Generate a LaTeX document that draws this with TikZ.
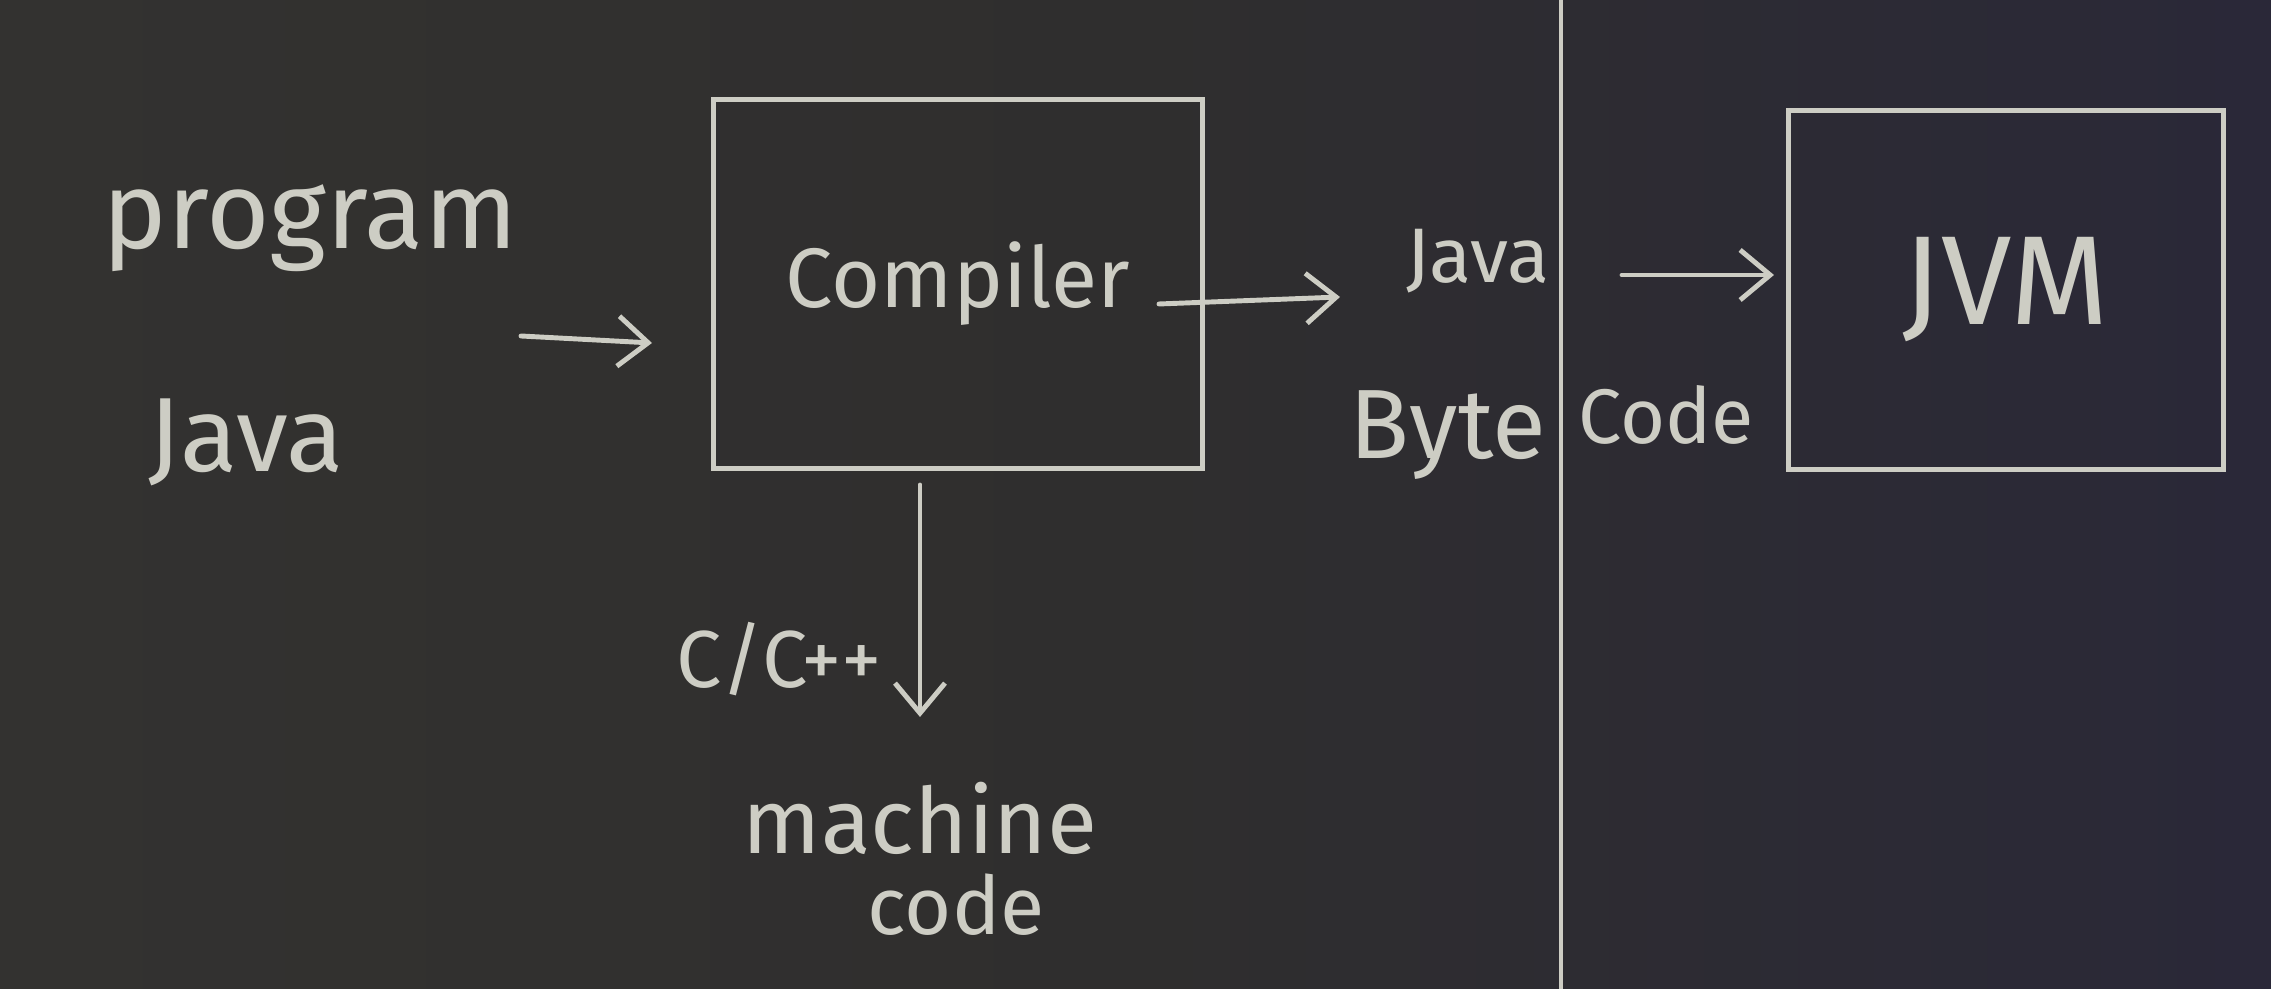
\documentclass[tikz,border=0pt]{standalone}
\usepackage{fontspec}
\setmainfont{Fira Sans}
\usetikzlibrary{arrows.meta}
\definecolor{boardL}{HTML}{333230}
\definecolor{boardM}{HTML}{2f2e2e}
\definecolor{boardR}{HTML}{2a2838}
\definecolor{chalk}{HTML}{CDCDC4}
\tikzset{
  chalkline/.style={draw=chalk, line width=1.4pt, line cap=round},
  chalkbox/.style={chalkline, rectangle, inner sep=0pt},
  chalktext/.style={text=chalk, inner sep=0pt, font=#1},
  chalktext/.default={\fontsize{26}{30}\selectfont},
  arr/.style={chalkline, -{Straight Barb[length=3mm,width=5mm,line width=1.4pt]}},
}
\begin{document}
\begin{tikzpicture}[x=0.01cm, y=-0.01cm]
\useasboundingbox (0,0) rectangle (2271,989);
\shade[left color=boardL, right color=boardR, middle color=boardM] (0,0) rectangle (2271,989);

% divider
\coordinate (divtop) at (1561,0);
\coordinate (divbot) at (1561,989);
\draw[chalkline, line width=1.1pt] (divtop) -- (divbot);

% texts
\node[chalktext={\fontsize{31}{36}\selectfont}] (program) at (310,228) {program};
\node[chalktext={\fontsize{30}{36}\selectfont}] (java1) at (246,442) {Java};

% compiler box
\node[chalkbox, minimum width=4.89cm, minimum height=3.68cm,
      chalktext={\fontsize{24}{28}\selectfont}] (compiler) at (958,284) {Compiler};

% JVM box
\node[chalkbox, minimum width=4.34cm, minimum height=3.58cm,
      chalktext={\fontsize{36}{42}\selectfont}] (jvm) at (2006,290) {JVM};

% bytecode label
\node[chalktext={\fontsize{22}{26}\selectfont}] (java2) at (1478,261) {Java};
\node[chalktext={\fontsize{28}{32}\selectfont}] (byte) at (1448,435) {Byte};
\node[chalktext={\fontsize{22}{26}\selectfont}] (code1) at (1666,415) {Code};

% C/C++ and machine code
\node[chalktext={\fontsize{23}{28}\selectfont}] (cpp) at (779,659) {C/C++};
\node[chalktext={\fontsize{26}{30}\selectfont}] (machine) at (920,818) {machine};
\node[chalktext={\fontsize{23}{28}\selectfont}] (code2) at (956,905) {code};

% arrows
\coordinate (a1s) at (521,336);
\coordinate (a1e) at (652,343);
\draw[arr] (a1s) -- (a1e);

\coordinate (a2s) at (1159,304);
\coordinate (a2e) at (1340,297);
\draw[arr] (a2s) -- (a2e);

\coordinate (a3s) at (1622,275);
\coordinate (a3e) at (1774,275);
\draw[arr] (a3s) -- (a3e);

\coordinate (a4s) at (920,485);
\coordinate (a4e) at (920,717);
\draw[arr] (a4s) -- (a4e);
\end{tikzpicture}
\end{document}
